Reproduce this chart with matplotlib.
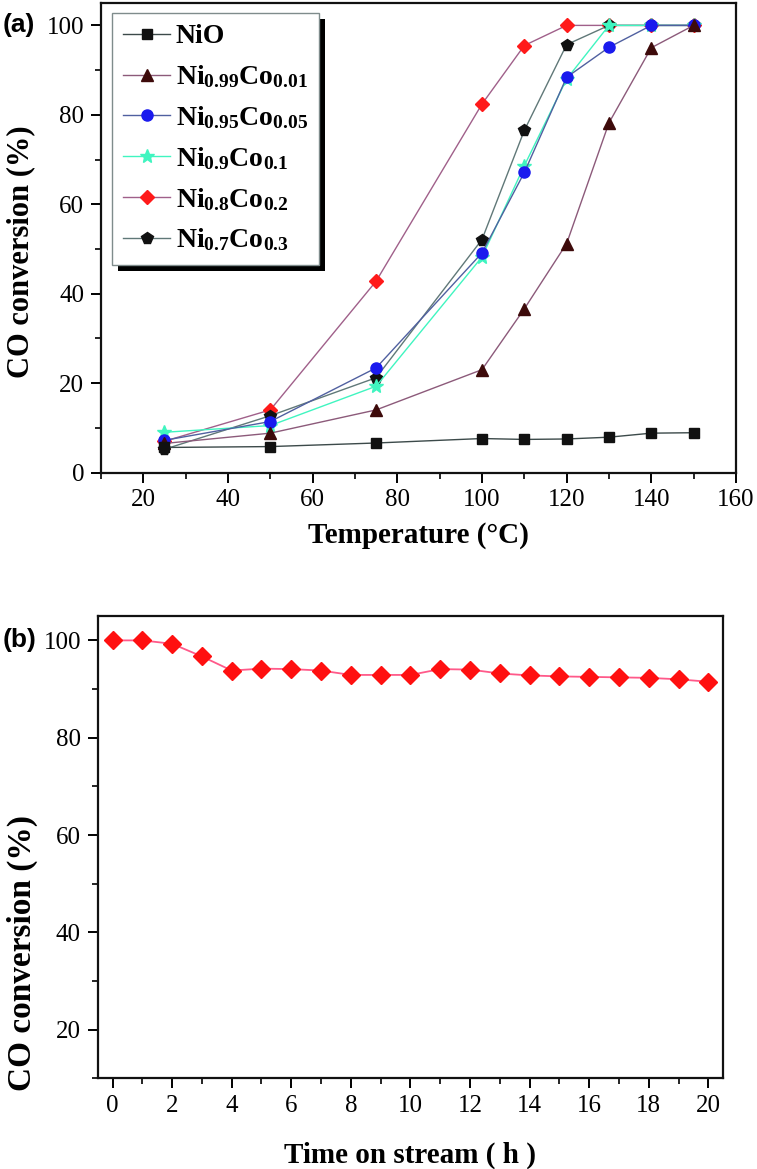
import matplotlib
matplotlib.use("Agg")
import matplotlib.pyplot as plt
from matplotlib.patches import Rectangle
from matplotlib.ticker import MultipleLocator

plt.rcParams['font.family'] = ['Liberation Serif', 'DejaVu Serif']
plt.rcParams['mathtext.fontset'] = 'custom'
plt.rcParams['mathtext.rm'] = 'Liberation Serif'
plt.rcParams['mathtext.bf'] = 'Liberation Serif:bold'

# panel (a): light-off curves
temp = [25, 50, 75, 100, 110, 120, 130, 140, 150]
nio = [5.6, 5.8, 6.6, 7.6, 7.4, 7.5, 7.9, 8.8, 8.9]
ni099 = [6.5, 8.8, 14.0, 23.0, 36.6, 51.2, 78.2, 95.0, 100.0]
ni095 = [7.2, 11.4, 23.4, 49.1, 67.1, 88.4, 95.1, 100.0, 100.0]
ni09 = [9.0, 10.5, 19.3, 48.2, 68.6, 88.0, 100.0, 100.0, 100.0]
ni08 = [7.0, 14.0, 42.8, 82.4, 95.5, 100.0, 100.0, 100.0, 100.0]
ni07 = [5.2, 12.7, 21.2, 52.1, 76.5, 95.7, 100.0, 100.0, 100.0]

labels = ['NiO',
          r'$\mathbf{Ni_{0.99}Co_{0.01}}$',
          r'$\mathbf{Ni_{0.95}Co_{0.05}}$',
          r'$\mathbf{Ni_{0.9}Co_{0.1}}$',
          r'$\mathbf{Ni_{0.8}Co_{0.2}}$',
          r'$\mathbf{Ni_{0.7}Co_{0.3}}$']

# panel (b): stability test
hours = list(range(21))
stab = [100.0, 100.0, 99.3, 96.7, 93.8, 94.2, 94.1, 93.8, 92.9, 92.9, 92.9,
        94.1, 94.0, 93.2, 92.8, 92.6, 92.5, 92.4, 92.3, 92.0, 91.5]

fig = plt.figure(figsize=(7.57, 11.69), dpi=100)
ax1 = fig.add_axes([0.1334, 0.5958, 0.8388, 0.4016])
ax2 = fig.add_axes([0.129, 0.0776, 0.8264, 0.3954])

# series styles: (data, marker, marker colour, line colour, size, zorder)
styles = [
    (nio, 's', '#111111', '#3c4a4a', 7.5, 8),
    (ni099, '^', '#3d0a0a', '#8c5a7a', 8.5, 7),
    (ni095, 'o', '#1a1aee', '#5060a0', 8.0, 6),
    (ni09, '*', '#40f5c0', '#40f5c0', 10.0, 5),
    (ni08, 'D', '#ff1a1a', '#a0608a', 7.5, 3),
    (ni07, 'p', '#111111', '#607878', 8.5, 4),
]
handles = []
for (ys, mk, mc, lc, ms, z), lab in zip(styles, labels):
    h, = ax1.plot(temp, ys, color=lc, lw=1.0, marker=mk, ms=ms,
                  mfc=mc, mec=mc, label=lab, zorder=z)
    handles.append(h)

ax1.set_xlim(10, 160)
ax1.set_ylim(0, 105)
ax1.xaxis.set_major_locator(MultipleLocator(20))
ax1.xaxis.set_minor_locator(MultipleLocator(10))
ax1.yaxis.set_major_locator(MultipleLocator(20))
ax1.yaxis.set_minor_locator(MultipleLocator(10))
ax1.set_xlabel('Temperature (°C)', fontsize=21, fontweight='bold', labelpad=8)
ax1.set_ylabel('CO conversion (%)', fontsize=22, fontweight='bold')
ax1.yaxis.set_label_coords(-0.104, 0.47)

leg = ax1.legend(handles=handles, loc='upper left', bbox_to_anchor=(0.017, 0.979),
                 borderaxespad=0, fontsize=20, handlelength=1.7, handletextpad=0.2,
                 labelspacing=0.5, borderpad=0.4, fancybox=False, framealpha=1)
leg.get_frame().set_edgecolor('#7f8c8c')
leg.get_frame().set_linewidth(1.0)
for t in leg.get_texts():
    t.set_fontweight('bold')

ax2.plot(hours, stab, color='#ff5a8a', lw=1.3, marker='D', ms=9,
         mfc='#ff1010', mec='#ff1010')
ax2.set_xlim(-0.5, 20.5)
ax2.set_ylim(10, 105)
ax2.xaxis.set_major_locator(MultipleLocator(2))
ax2.xaxis.set_minor_locator(MultipleLocator(1))
ax2.yaxis.set_major_locator(MultipleLocator(20))
ax2.yaxis.set_minor_locator(MultipleLocator(10))
ax2.set_xlabel('Time on stream ( h )', fontsize=21, fontweight='bold', labelpad=18)
ax2.set_ylabel('CO conversion (%)', fontsize=24, fontweight='bold')
ax2.yaxis.set_label_coords(-0.096, 0.27)

for ax, ls in ((ax1, 18), (ax2, 18)):
    for sp in ax.spines.values():
        sp.set_linewidth(1.6)
        sp.set_color('#111111')
    ax.tick_params(which='major', direction='out', length=7, width=1.4, labelsize=ls, pad=5)
    ax.tick_params(which='minor', direction='out', length=4, width=1.2)

fig.text(0.004, 0.9786, '(a)', fontsize=19, fontweight='bold', va='center',
         family='Liberation Sans')
fig.text(0.003, 0.4525, '(b)', fontsize=19, fontweight='bold', va='center',
         family='Liberation Sans')

# solid black shadow behind the legend box
fig.canvas.draw()
bb = leg.get_window_extent()
ax1.add_patch(Rectangle((bb.x0 + 6, bb.y0 - 6), bb.width, bb.height,
                        transform=None, facecolor='black', edgecolor='none',
                        zorder=4.9, clip_on=False))

fig.savefig('out.png', dpi=100)
